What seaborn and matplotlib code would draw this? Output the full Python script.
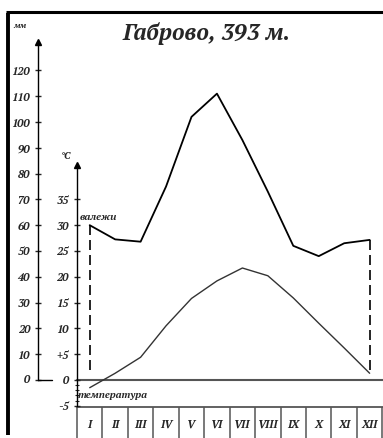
import matplotlib
matplotlib.use("Agg")
import matplotlib.pyplot as plt
from matplotlib import font_manager as fm
from matplotlib.lines import Line2D
import seaborn as sns
import pandas as pd

# ---- data ----
months = ["I", "II", "III", "IV", "V", "VI", "VII", "VIII", "IX", "X", "XI", "XII"]
precip_mm = [60, 54.5, 53.6, 75, 102, 111, 93, 73, 52, 48, 53, 54.3]
temp_c = [-1.5, 1.3, 4.4, 10.5, 15.8, 19.2, 21.7, 20.2, 15.9, 11.0, 6.2, 1.3]
mm_ticks = [0, 10, 20, 30, 40, 50, 60, 70, 80, 90, 100, 110, 120]
t_ticks = [-5, 0, 5, 10, 15, 20, 25, 30, 35]
t_tick_labels = ["-5", "0", "+5", "10", "15", "20", "25", "30", "35"]
title = "Габрово, 393 м."

sns.set_style("white")
plt.rcParams["font.family"] = ["PT Serif", "DejaVu Serif"]

# bold-italic serif font file (by file name)
pref_files = ["PT_Serif-Web-BoldItalic", "DejaVuSerif-BoldItalic"]
chosen = None
for p in pref_files:
    for f in fm.fontManager.ttflist:
        if f.fname.split("/")[-1].startswith(p):
            chosen = f.fname
            break
    if chosen:
        break


def fp(size):
    if chosen:
        return fm.FontProperties(fname=chosen, size=size)
    return fm.FontProperties(family=["DejaVu Serif"], weight="bold",
                             style="italic", size=size)


fig = plt.figure(figsize=(3.83, 4.38), dpi=100)
ax = fig.add_axes([0, 0, 1, 1])
ax.set_facecolor("white")
XL = (-3.525, 11.525)
YL = (-22.5, 147.3)
ax.set_xlim(*XL)
ax.set_ylim(*YL)
ax2 = ax.twinx()
ax2.set_ylim(YL[0] / 2, YL[1] / 2)
ax2.set_xlim(*XL)

idx = list(range(len(months)))
df = pd.DataFrame({"m": idx, "p": precip_mm, "t": temp_c})

# curves
sns.lineplot(data=df, x="m", y="p", ax=ax, color="black", lw=1.3)
sns.lineplot(data=df, x="m", y="t", ax=ax2, color="#333333", lw=1.0)

# dashed connectors at first and last month
for i in (0, len(months) - 1):
    ax.plot([i, i], [precip_mm[i], 2 * max(temp_c[i], 1.0)], color="black",
            lw=1.2, dashes=(6, 3))

for a in (ax, ax2):
    for s in ("top", "right", "bottom"):
        a.spines[s].set_visible(False)
    a.set_xticks([])
    a.set_xlabel("")
    a.set_ylabel("")

# ---- precipitation axis (left) ----
ax.spines["left"].set_position(("data", -2.03))
ax.spines["left"].set_bounds(0, 131)
ax.spines["left"].set_linewidth(1.0)
ax.spines["left"].set_color("black")
ax.set_yticks(mm_ticks)
ax.set_yticklabels([str(v) if v != 0 else "" for v in mm_ticks])
ax.tick_params(axis="y", direction="inout", length=4.5, width=1.0, pad=3.5,
               left=True)
for lab in ax.get_yticklabels():
    lab.set_fontproperties(fp(8))
ax.plot([-2.03], [131], marker="^", color="black", ms=5, clip_on=False)
ax.plot([-2.03, -1.48], [0, 0], color="black", lw=1.0)
ax.text(-2.35, 0, "0", ha="right", va="center", fontproperties=fp(8))

# ---- temperature axis ----
ax2.yaxis.tick_left()
ax2.spines["left"].set_visible(True)
ax2.spines["left"].set_position(("data", -0.5))
ax2.spines["left"].set_bounds(-5, 41.7)
ax2.spines["left"].set_linewidth(1.0)
ax2.spines["left"].set_color("black")
ax2.set_yticks(t_ticks)
ax2.set_yticklabels(t_tick_labels)
ax2.set_yticks([-4, -3, -2, -1], minor=True)
ax2.tick_params(axis="y", which="major", direction="inout", length=4.5,
                width=1.0, pad=3.5, left=True, right=False,
                labelleft=True, labelright=False)
ax2.tick_params(axis="y", which="minor", direction="inout", length=3.5,
                width=0.8, left=True, right=False)
for lab in ax2.get_yticklabels():
    lab.set_fontproperties(fp(8))
ax2.plot([-0.5], [41.7], marker="^", color="black", ms=5, clip_on=False)

# zero line and month strip
ax.plot([-0.5, XL[1]], [0, 0], color="#555555", lw=1.5)
ax.plot([-0.5, XL[1]], [-10.3, -10.3], color="#555555", lw=1.3)
ax.vlines([i - 0.5 for i in range(len(months) + 1)], YL[0], -10.3,
          color="#555555", lw=1.1)
for i, m in enumerate(months):
    ax.text(i, -17.1, m, ha="center", va="center", fontproperties=fp(8))

# texts
ax.text(4.61, 134.5, title, ha="center", va="center", fontproperties=fp(16.5))
ax.text(-2.74, 137.3, "мм", ha="center", va="center", fontproperties=fp(6))
ax.text(-0.93, 86.8, "°C", ha="center", va="center", fontproperties=fp(7))
ax.text(0.33, 63.2, "валежи", ha="center", va="center", fontproperties=fp(7.5))
ax.text(0.92, -6.2, "температура", ha="center", va="center",
        fontproperties=fp(7.5))

# frame
fig.add_artist(Line2D([7.7 / 383, 7.7 / 383], [3 / 438, 1 - 12.5 / 438],
                      transform=fig.transFigure, color="black", lw=2.8,
                      solid_capstyle="butt"))
fig.add_artist(Line2D([5.8 / 383, 1], [1 - 11.6 / 438, 1 - 11.6 / 438],
                      transform=fig.transFigure, color="black", lw=2.2,
                      solid_capstyle="butt"))

fig.savefig("out.png", dpi=100)
